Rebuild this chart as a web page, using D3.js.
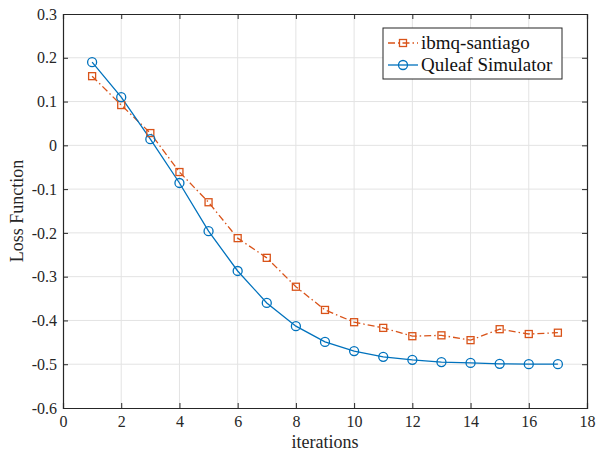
<html>
<head>
<meta charset="utf-8">
<script src="https://d3js.org/d3.v7.min.js"></script>
<style>
body { margin: 0; background: white; }
svg text { font-family: "Liberation Serif", "Times New Roman", serif; }
</style>
</head>
<body>
<svg width="603" height="451"></svg>
<script>
// data
var iterations = [1, 2, 3, 4, 5, 6, 7, 8, 9, 10, 11, 12, 13, 14, 15, 16, 17];
var ibmqSantiago = [0.158, 0.092, 0.028, -0.061, -0.130, -0.212, -0.257, -0.323, -0.376, -0.404, -0.417, -0.436, -0.434, -0.445, -0.420, -0.431, -0.428];
var quleafSim = [0.190, 0.110, 0.014, -0.086, -0.196, -0.287, -0.360, -0.413, -0.449, -0.470, -0.483, -0.490, -0.495, -0.497, -0.499, -0.500, -0.500];
var xTicks = [0, 2, 4, 6, 8, 10, 12, 14, 16, 18];
var yTicks = [0.3, 0.2, 0.1, 0, -0.1, -0.2, -0.3, -0.4, -0.5, -0.6];
var seriesNames = ["ibmq-santiago", "Quleaf Simulator"];

function draw() {
var pLeft = 63, pRight = 587, pTop = 14, pBottom = 408;
var serif = "Liberation Serif";
var svg = d3.select("svg");

var x = d3.scaleLinear().domain([0, 18]).range([pLeft, pRight]);
var y = d3.scaleLinear().domain([-0.6, 0.3]).range([pBottom, pTop]);

// grid
svg.append("g").selectAll("line").data(xTicks.slice(1, -1)).enter().append("line")
   .attr("x1", d => x(d)).attr("x2", d => x(d))
   .attr("y1", pTop).attr("y2", pBottom)
   .attr("stroke", "#e3e3e3").attr("stroke-width", 1);
svg.append("g").selectAll("line").data(yTicks.slice(1, -1)).enter().append("line")
   .attr("x1", pLeft).attr("x2", pRight)
   .attr("y1", d => y(d)).attr("y2", d => y(d))
   .attr("stroke", "#e3e3e3").attr("stroke-width", 1);

// axes
var fmt = d => d === 0 ? "0" : d.toFixed(1);
svg.append("g").attr("transform", "translate(0," + pBottom + ")")
   .call(d3.axisBottom(x).tickValues(xTicks).tickSize(-5).tickPadding(8).tickFormat(d => String(d)));
svg.append("g").attr("transform", "translate(" + pLeft + ",0)")
   .call(d3.axisLeft(y).tickValues(yTicks).tickSize(-5).tickPadding(6).tickFormat(fmt));
svg.append("g").attr("transform", "translate(0," + pTop + ")")
   .call(d3.axisTop(x).tickValues(xTicks).tickSize(-5).tickFormat(""));
svg.append("g").attr("transform", "translate(" + pRight + ",0)")
   .call(d3.axisRight(y).tickValues(yTicks).tickSize(-5).tickFormat(""));

svg.selectAll(".domain").attr("stroke", "#262626").attr("stroke-width", 1.2);
svg.selectAll(".tick line").attr("stroke", "#262626");
svg.selectAll(".tick text").attr("fill", "#262626").style("font-size", "16px")
   .style("font-family", serif);

svg.append("text").attr("x", (pLeft + pRight) / 2).attr("y", 448)
   .attr("text-anchor", "middle").style("font-size", "18px").style("font-family", serif)
   .attr("fill", "#262626").text("iterations");
svg.append("text").attr("transform", "translate(23," + ((pTop + pBottom) / 2) + ") rotate(-90)")
   .attr("text-anchor", "middle").style("font-size", "18px").style("font-family", serif)
   .attr("fill", "#262626").text("Loss Function");

var orange = "#D95319", blue = "#0072BD";
var line = d3.line().x((d, i) => x(iterations[i])).y(d => y(d));

svg.append("path").datum(ibmqSantiago).attr("d", line)
   .attr("fill", "none").attr("stroke", orange).attr("stroke-width", 1.3)
   .attr("stroke-dasharray", "7,3,1.5,3");
svg.append("path").datum(quleafSim).attr("d", line)
   .attr("fill", "none").attr("stroke", blue).attr("stroke-width", 1.3);

svg.append("g").selectAll("rect").data(ibmqSantiago).enter().append("rect")
   .attr("x", (d, i) => x(iterations[i]) - 3.5).attr("y", d => y(d) - 3.5)
   .attr("width", 7).attr("height", 7)
   .attr("fill", "none").attr("stroke", orange).attr("stroke-width", 1.3);
svg.append("g").selectAll("circle").data(quleafSim).enter().append("circle")
   .attr("cx", (d, i) => x(iterations[i])).attr("cy", d => y(d)).attr("r", 4.5)
   .attr("fill", "none").attr("stroke", blue).attr("stroke-width", 1.3);

// legend
var lg = svg.append("g");
lg.append("rect").attr("x", 383).attr("y", 28).attr("width", 179).attr("height", 51)
  .attr("fill", "white").attr("stroke", "#262626").attr("stroke-width", 1);
var ly = [43, 65];
lg.append("line").attr("x1", 388).attr("x2", 418).attr("y1", ly[0]).attr("y2", ly[0])
  .attr("stroke", orange).attr("stroke-width", 1.3).attr("stroke-dasharray", "7,3,1.5,3");
lg.append("rect").attr("x", 399.5).attr("y", ly[0] - 3.5).attr("width", 7).attr("height", 7)
  .attr("fill", "none").attr("stroke", orange).attr("stroke-width", 1.3);
lg.append("line").attr("x1", 388).attr("x2", 418).attr("y1", ly[1]).attr("y2", ly[1])
  .attr("stroke", blue).attr("stroke-width", 1.3);
lg.append("circle").attr("cx", 403).attr("cy", ly[1]).attr("r", 4.5)
  .attr("fill", "none").attr("stroke", blue).attr("stroke-width", 1.3);
lg.selectAll("text.l").data(seriesNames).enter().append("text")
  .attr("x", 421).attr("y", (d, i) => ly[i] + 6)
  .style("font-size", "19px").style("font-family", serif).attr("fill", "#111")
  .text(d => d);
}
draw();
</script>
</body>
</html>
